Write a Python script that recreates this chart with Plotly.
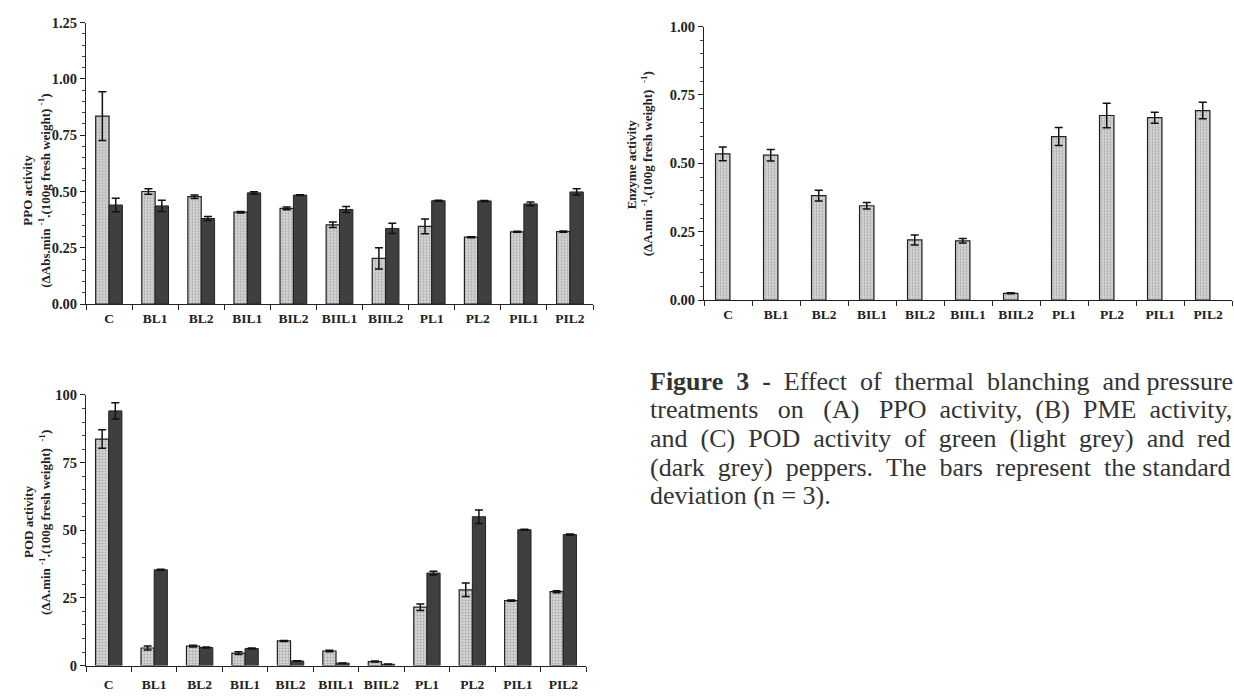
import plotly.graph_objects as go

categories = ["C", "BL1", "BL2", "BIL1", "BIL2", "BIIL1", "BIIL2", "PL1", "PL2", "PIL1", "PIL2"]

# (A) PPO activity
ppo_green = [0.835, 0.500, 0.477, 0.408, 0.425, 0.352, 0.203, 0.345, 0.297, 0.321, 0.322]
ppo_green_sd = [0.108, 0.012, 0.008, 0.003, 0.006, 0.012, 0.047, 0.033, 0.002, 0.002, 0.003]
ppo_red = [0.440, 0.436, 0.380, 0.494, 0.484, 0.420, 0.336, 0.459, 0.458, 0.445, 0.498]
ppo_red_sd = [0.030, 0.025, 0.009, 0.005, 0.002, 0.013, 0.023, 0.002, 0.002, 0.008, 0.014]

# (B) PME activity (green only)
pme_green = [0.535, 0.530, 0.382, 0.345, 0.220, 0.217, 0.025, 0.598, 0.675, 0.667, 0.693]
pme_green_sd = [0.025, 0.021, 0.020, 0.012, 0.018, 0.008, 0.002, 0.033, 0.045, 0.020, 0.030]

# (C) POD activity
pod_green = [83.7, 6.5, 7.2, 4.6, 9.1, 5.4, 1.5, 21.6, 28.0, 24.0, 27.3]
pod_green_sd = [3.4, 0.7, 0.3, 0.5, 0.2, 0.3, 0.2, 1.2, 2.5, 0.2, 0.4]
pod_red = [94.1, 35.4, 6.7, 6.3, 1.7, 0.9, 0.5, 34.2, 55.0, 50.2, 48.4]
pod_red_sd = [3.0, 0.2, 0.2, 0.2, 0.1, 0.1, 0.1, 0.7, 2.5, 0.2, 0.2]

ytitle_line1 = ["PPO activity", "Enzyme activity", "POD activity"]
ytitle_line2 = [
    "(ΔAbs.min <sup>-1</sup>.(100g fresh weight) <sup>-1</sup>)",
    "(ΔA.min <sup>-1</sup>.(100g fresh weight)  <sup>-1</sup>)",
    "(ΔA.min <sup>-1</sup>.(100g fresh weight)  <sup>-1</sup>)",
]

caption_lines = [
    "<b>Figure 3 -</b> Effect of thermal blanching and pressure",
    "treatments on (A) PPO activity, (B) PME activity,",
    "and (C) POD activity of green (light grey) and red",
    "(dark grey) peppers. The bars represent the standard",
    "deviation (n = 3).",
]
caption_extra_spaces = [7, 10, 9, 6, 0]

W, H = 1234, 699
SERIF = "Liberation Serif"

light_marker = dict(
    color="#d4d4d4",
    line=dict(color="#202020", width=1.2),
    pattern=dict(shape=".", bgcolor="#d8d8d8", fgcolor="#777777", size=3, solidity=0.4),
)
dark_marker = dict(color="#3f3f3f", line=dict(color="#222222", width=1))


def err(arr):
    return dict(type="data", array=arr, color="#111111", thickness=1.5, width=4)


fig = go.Figure()

# A
fig.add_trace(go.Bar(x=categories, y=ppo_green, error_y=err(ppo_green_sd), marker=light_marker,
                     offset=-0.29, width=0.29, xaxis="x", yaxis="y", showlegend=False))
fig.add_trace(go.Bar(x=categories, y=ppo_red, error_y=err(ppo_red_sd), marker=dark_marker,
                     offset=0.0, width=0.29, xaxis="x", yaxis="y", showlegend=False))
# B
fig.add_trace(go.Bar(x=categories, y=pme_green, error_y=err(pme_green_sd), marker=light_marker,
                     offset=-0.26, width=0.30, xaxis="x2", yaxis="y2", showlegend=False))
# C
fig.add_trace(go.Bar(x=categories, y=pod_green, error_y=err(pod_green_sd), marker=light_marker,
                     offset=-0.29, width=0.29, xaxis="x3", yaxis="y3", showlegend=False))
fig.add_trace(go.Bar(x=categories, y=pod_red, error_y=err(pod_red_sd), marker=dark_marker,
                     offset=0.0, width=0.29, xaxis="x3", yaxis="y3", showlegend=False))


def xaxis(domain, anchor, standoff):
    return dict(domain=domain, anchor=anchor, type="category", range=[-0.5, 10.5],
                tickson="boundaries", ticks="outside", ticklen=5, tickwidth=1, tickcolor="#222",
                showline=True, linecolor="#222", linewidth=1.2, showgrid=False,
                ticklabelstandoff=standoff,
                tickfont=dict(family=SERIF, size=13.5, color="#222222", weight=700), fixedrange=True)


def yaxis(domain, anchor, rng, dtick, fmt, minor):
    return dict(domain=domain, anchor=anchor, range=rng, dtick=dtick, tickformat=fmt,
                ticks="outside", ticklen=5, tickwidth=1, tickcolor="#222",
                showline=True, linecolor="#222", linewidth=1.2, showgrid=False, zeroline=False,
                minor=dict(dtick=minor, ticks="outside", ticklen=3, tickcolor="#444", showgrid=False),
                tickfont=dict(family=SERIF, size=14.5, color="#222222", weight=700), fixedrange=True)


def px(x0, x1):
    return [x0 / W, x1 / W]


def py(top, bottom):
    return [1 - bottom / H, 1 - top / H]


fig.update_layout(
    width=W, height=H,
    margin=dict(l=0, r=0, t=0, b=0),
    paper_bgcolor="white", plot_bgcolor="white",
    barmode="overlay",
    xaxis=xaxis(px(86, 593), "y", 2),
    yaxis=yaxis(py(15, 303), "x", [0, 1.25], 0.25, ".2f", 0.05),
    xaxis2=xaxis(px(704, 1232), "y2", 2),
    yaxis2=yaxis(py(19, 299), "x2", [0, 1.0], 0.25, ".2f", 0.05),
    xaxis3=xaxis(px(86, 586), "y3", 6),
    yaxis3=yaxis(py(396, 673), "x3", [0, 100], 25, "d", 5),
)

title_font = dict(family=SERIF, size=13, color="#222222", weight=700)
title_pos = [((28, 44), 187), ((631, 647), 160), ((29, 45), 526)]
for l1, l2, ((x1, x2), cy) in zip(ytitle_line1, ytitle_line2, title_pos):
    for txt, cx in ((l1, x1), (l2, x2)):
        fig.add_annotation(text=txt, x=cx / W, y=1 - cy / H, xref="paper", yref="paper",
                           textangle=-90, showarrow=False, font=title_font, align="center",
                           xanchor="center", yanchor="middle")


def justify(line, extra):
    words = line.split(" ")
    gaps = len(words) - 1
    out = words[0]
    for i, w in enumerate(words[1:]):
        k = extra // gaps + (1 if i < extra % gaps else 0) if gaps else 0
        out += " " + "\u00a0" * k + w
    return out


cap_font = dict(family=SERIF, size=26, color="#333333")
for i, (line, extra) in enumerate(zip(caption_lines, caption_extra_spaces)):
    fig.add_annotation(text=justify(line, extra), x=648 / W, y=1 - (382 + i * 29.3) / H,
                       xref="paper", yref="paper", showarrow=False, font=cap_font,
                       xanchor="left", yanchor="middle", align="left")

fig.write_html("out.html")
